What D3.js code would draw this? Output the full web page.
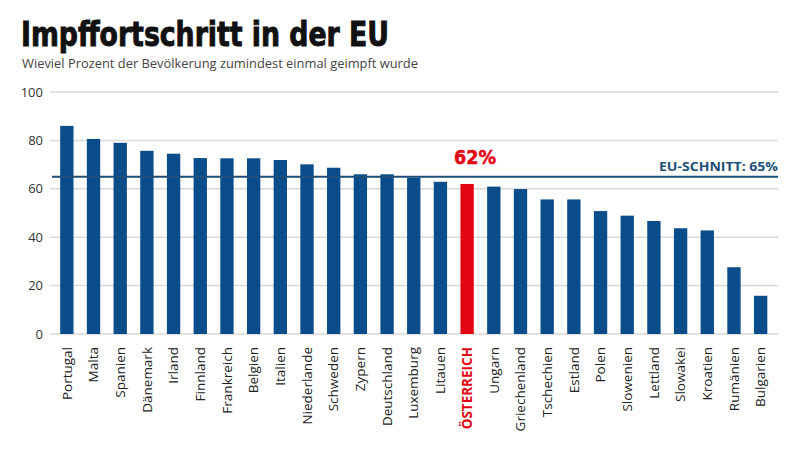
<!DOCTYPE html>
<html><head><meta charset="utf-8">
<script src="https://cdn.jsdelivr.net/npm/d3@7"></script>
<style>body{margin:0;background:#fff}svg{display:block}</style>
</head><body>
<svg id="c" width="800" height="452"></svg>
<script>
const countries = ["Portugal","Malta","Spanien","Dänemark","Irland","Finnland","Frankreich","Belgien","Italien","Niederlande","Schweden","Zypern","Deutschland","Luxemburg","Litauen","ÖSTERREICH","Ungarn","Griechenland","Tschechien","Estland","Polen","Slowenien","Lettland","Slowakei","Kroatien","Rumänien","Bulgarien"];
const values = [86,80.6,79,75.7,74.5,72.7,72.6,72.6,71.9,70.1,68.7,66,66,64.6,62.9,62,60.9,59.9,55.6,55.6,50.8,48.9,46.7,43.7,42.8,27.6,15.8];
const yTicks = [0,20,40,60,80,100];
const highlight = "ÖSTERREICH";
const euAverage = 65;
const title = "Impffortschritt in der EU";
const subtitle = "Wieviel Prozent der Bevölkerung zumindest einmal geimpft wurde";

(function(){
const svg = d3.select("#c");
const mLeft = 50, mRight = 778, mTop = 92, mBottom = 334;
const x = d3.scaleBand().domain(countries).range([53.5, 774]).paddingInner(0.5).paddingOuter(0.25);
const y = d3.scaleLinear().domain([0,100]).range([mBottom, mTop]);

svg.append("text").attr("x",21).attr("y",46).text(title)
  .attr("font-family","'DejaVu Sans Condensed','Liberation Sans Narrow',sans-serif").attr("font-weight","bold")
  .attr("font-size",34).attr("fill","#111").attr("stroke","#111").attr("stroke-width",0.9)
  .attr("textLength",368).attr("lengthAdjust","spacingAndGlyphs");
svg.append("text").attr("x",22).attr("y",68).text(subtitle)
  .attr("font-family","'Open Sans',sans-serif").attr("font-size",12.5).attr("fill","#444")
  .attr("textLength",396).attr("lengthAdjust","spacingAndGlyphs");

// grid
svg.append("g").selectAll("line").data(yTicks).join("line")
  .attr("x1",mLeft).attr("x2",mRight).attr("y1",d=>y(d)).attr("y2",d=>y(d))
  .attr("stroke","#d9d9d9").attr("stroke-width",1.5);
svg.append("g").selectAll("text").data(yTicks).join("text")
  .attr("x",43).attr("y",d=>y(d)).attr("dy","0.35em").attr("text-anchor","end")
  .attr("font-family","'Open Sans',sans-serif").attr("font-size",13).attr("fill","#333").text(d=>d);

// bars
svg.append("g").selectAll("rect").data(countries).join("rect")
  .attr("x",d=>x(d)).attr("width",x.bandwidth())
  .attr("y",(d,i)=>y(values[i])).attr("height",(d,i)=>y(0)-y(values[i]))
  .attr("fill",d=>d===highlight?"#e30613":"#0a4d8a");

// EU line
svg.append("line").attr("x1",52).attr("x2",mRight).attr("y1",y(euAverage)).attr("y2",y(euAverage))
  .attr("stroke","#1d4f7a").attr("stroke-width",2);
svg.append("text").attr("x",mRight).attr("y",y(euAverage)-6).attr("text-anchor","end")
  .attr("font-family","'Open Sans',sans-serif").attr("font-weight","700").attr("font-size",12.5)
  .attr("fill","#1d4f7a").attr("textLength",119).attr("lengthAdjust","spacingAndGlyphs")
  .text("EU-SCHNITT: " + euAverage + "%");

// highlight label
const hi = countries.indexOf(highlight);
svg.append("text").attr("x",x(highlight)+x.bandwidth()/2+8).attr("y",164).attr("text-anchor","middle")
  .attr("font-family","'DejaVu Sans Condensed','Liberation Sans Narrow',sans-serif").attr("font-weight","bold")
  .attr("font-size",20).attr("fill","#e30613").attr("stroke","#e30613").attr("stroke-width",0.5)
  .attr("textLength",42).attr("lengthAdjust","spacingAndGlyphs")
  .text(Math.round(values[hi]) + "%");

// x labels
svg.append("g").selectAll("text").data(countries).join("text")
  .attr("transform",d=>`translate(${x(d)+x.bandwidth()/2},347) rotate(-90)`)
  .attr("dy","0.35em").attr("text-anchor","end")
  .attr("font-family","'Open Sans',sans-serif").attr("font-size",13.5)
  .attr("font-weight",d=>d===highlight?"bold":"normal")
  .attr("fill",d=>d===highlight?"#e30613":"#222").text(d=>d);
})();
</script>
</body></html>
